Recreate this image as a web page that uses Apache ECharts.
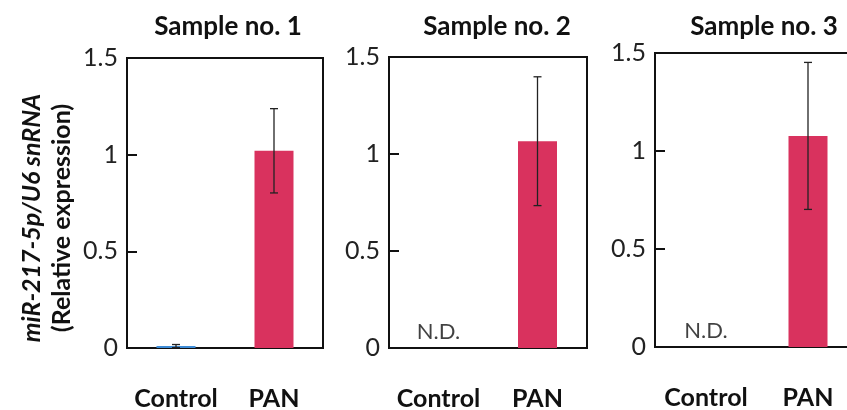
<!DOCTYPE html>
<html>
<head>
<meta charset="utf-8">
<script src="https://cdn.jsdelivr.net/npm/echarts@6/dist/echarts.min.js"></script>
<style>html,body{margin:0;padding:0;background:#fff}#c{width:847px;height:410px}</style>
</head>
<body>
<div id="c"></div>
<script>
var categories = ['Control', 'PAN'];
var panelTitles = ['Sample no. 1', 'Sample no. 2', 'Sample no. 3'];
var yTicks = [0, 0.5, 1, 1.5];
var sample1Means = [0.01, 1.02];
var sample1Errors = [0.008, 0.218];
var sample2Means = [null, 1.066];
var sample2Errors = [null, 0.332];
var sample3Means = [null, 1.077];
var sample3Errors = [null, 0.375];
var notDetected = [false, true, true];

var means = [sample1Means, sample2Means, sample3Means];
var errors = [sample1Errors, sample2Errors, sample3Errors];

var FONT = 'Lato';
var grids = [
  {left: 127, top: 58, width: 196, height: 290},
  {left: 389, top: 57, width: 198, height: 291},
  {left: 655, top: 53, width: 204, height: 294}
];
var titleX = [223, 492, 759];
var barColors = ['#3d8bd6', '#d9325e'];

var option = {
  animation: false,
  backgroundColor: '#fff',
  title: panelTitles.map(function (t, i) {
    return {text: t, left: titleX[i], top: 9, textAlign: 'center',
      textStyle: {fontFamily: FONT, fontWeight: 'bold', fontSize: 26, color: '#111'}};
  }),
  grid: grids.map(function (g) {
    return Object.assign({show: true, borderColor: '#111', borderWidth: 2, backgroundColor: 'transparent',
      containLabel: false, outerBoundsMode: 'none'}, g);
  }),
  xAxis: grids.map(function (g, i) {
    return {type: 'category', gridIndex: i, data: categories,
      axisLine: {show: true, lineStyle: {color: '#111', width: 2}},
      axisTick: {show: false},
      axisLabel: {interval: 0, fontFamily: FONT, fontWeight: 'bold', fontSize: 25, color: '#111', margin: 38}};
  }),
  yAxis: grids.map(function (g, i) {
    var ax = {type: 'value', gridIndex: i, min: yTicks[0], max: yTicks[yTicks.length - 1], interval: 0.5,
      axisLine: {show: true, lineStyle: {color: '#111', width: 2}},
      axisTick: {show: true, inside: true, length: 10, lineStyle: {color: '#111', width: 2}},
      splitLine: {show: false},
      axisLabel: {fontFamily: FONT, fontSize: 25, color: '#222', margin: 9}};
    if (i === 0) {
      ax.name = '{a|miR-217-5p/U6 snRNA}\n{b|(Relative expression)}';
      ax.nameLocation = 'middle';
      ax.nameRotate = 90;
      ax.nameGap = 50;
      ax.nameTextStyle = {
        padding: [0, 30, 0, 0],
        rich: {
          a: {fontFamily: FONT, fontWeight: 'bold', fontStyle: 'italic', fontSize: 25, color: '#111', lineHeight: 30},
          b: {fontFamily: FONT, fontWeight: 'bold', fontSize: 25, color: '#111', lineHeight: 30}
        }
      };
    }
    return ax;
  }),
  series: []
};

means.forEach(function (m, i) {
  option.series.push({
    type: 'bar', xAxisIndex: i, yAxisIndex: i, barWidth: 39,
    data: m.map(function (v, k) {
      return {value: v, itemStyle: {color: barColors[k]}};
    })
  });
  var errData = [];
  m.forEach(function (v, k) {
    if (v !== null && errors[i][k] !== null) {
      errData.push([k, Math.max(0, v - errors[i][k]), v + errors[i][k]]);
    }
  });
  option.series.push({
    type: 'custom', xAxisIndex: i, yAxisIndex: i, z: 10,
    data: errData,
    renderItem: function (params, api) {
      var lo = api.coord([api.value(0), api.value(1)]);
      var hi = api.coord([api.value(0), api.value(2)]);
      var w = 4;
      var st = {stroke: '#222', lineWidth: 1.3};
      return {type: 'group', children: [
        {type: 'line', shape: {x1: hi[0], y1: hi[1], x2: lo[0], y2: lo[1]}, style: st},
        {type: 'line', shape: {x1: hi[0] - w, y1: hi[1], x2: hi[0] + w, y2: hi[1]}, style: st},
        {type: 'line', shape: {x1: lo[0] - w, y1: lo[1], x2: lo[0] + w, y2: lo[1]}, style: st}
      ]};
    }
  });
  if (notDetected[i]) {
    option.series.push({
      type: 'scatter', xAxisIndex: i, yAxisIndex: i, symbolSize: 0,
      data: [[0, 0]],
      label: {show: true, formatter: 'N.D.', position: 'inside', offset: [0, -16],
        fontFamily: FONT, fontSize: 22, color: '#111'}
    });
  }
});

var chart = echarts.init(document.getElementById('c'), null, {renderer: 'canvas'});
chart.setOption(option);
</script>
</body>
</html>
